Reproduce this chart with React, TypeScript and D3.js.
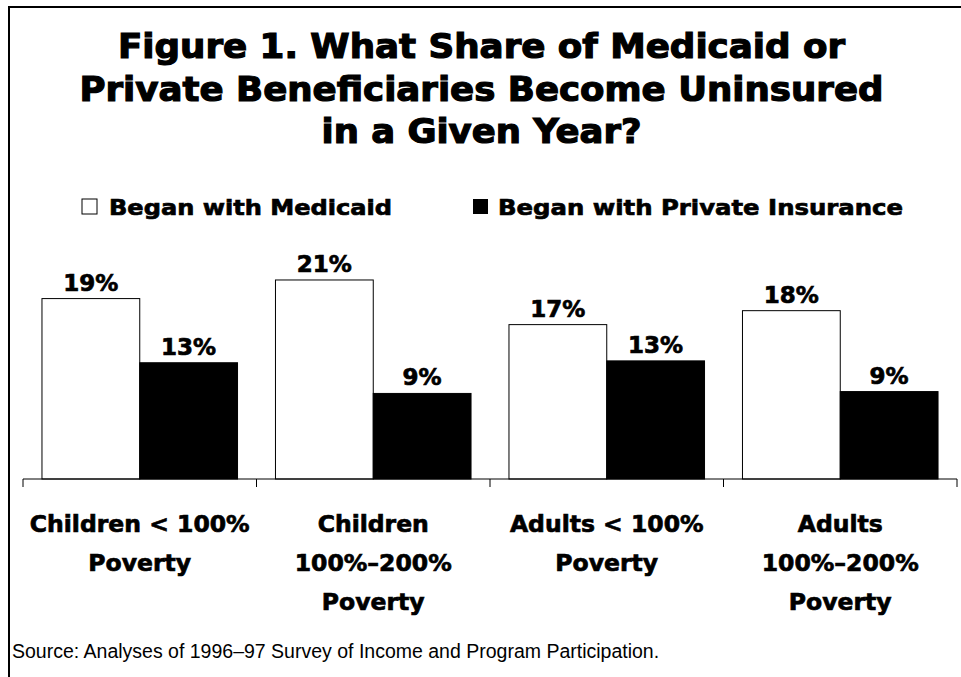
import React from "react";
import * as d3 from "d3";

const categories = ["Children < 100% Poverty", "Children 100%–200% Poverty", "Adults < 100% Poverty", "Adults 100%–200% Poverty"];
const categoryLines = [
  ["Children < 100%", "Poverty"],
  ["Children", "100%–200%", "Poverty"],
  ["Adults < 100%", "Poverty"],
  ["Adults", "100%–200%", "Poverty"],
];
const seriesNames = ["Began with Medicaid", "Began with Private Insurance"];
const medicaidValues = [19.4, 21.4, 16.6, 18.1];
const privateValues = [12.5, 9.2, 12.7, 9.4];
const medicaidLabels = ["19%", "21%", "17%", "18%"];
const privateLabels = ["13%", "9%", "13%", "9%"];
const titleLines = [
  "Figure 1. What Share of Medicaid or",
  "Private Beneficiaries Become Uninsured",
  "in a Given Year?",
];
const sourceText = "Source: Analyses of 1996–97 Survey of Income and Program Participation.";

const W = 961;
const H = 677;
const HEAVY = "'DejaVu Sans', 'Liberation Sans', Arial, sans-serif";

export default function App() {
  const baseY = 479;
  const x0 = d3.scaleBand<number>().domain(d3.range(categories.length)).range([23, 957]).padding(0);
  const x1 = d3.scaleBand<string>().domain(seriesNames).range([0, x0.bandwidth()]).paddingInner(0).paddingOuter(0.194);
  const y = d3.scaleLinear().domain([0, 25]).range([baseY, baseY - 25 * 9.3]);

  const series = [
    { name: seriesNames[0], values: medicaidValues, labels: medicaidLabels, fill: "#ffffff" },
    { name: seriesNames[1], values: privateValues, labels: privateLabels, fill: "#000000" },
  ];

  const titleWidths = [727, 804, 320];
  const titleBaselines = [58, 101, 143];
  const tickXs = d3.range(categories.length + 1).map((i) => (i < categories.length ? (x0(i) as number) : 957));

  return (
    <svg width={W} height={H} style={{ position: "absolute", left: 0, top: 0, background: "#fff" }}>
      <rect x={0} y={0} width={W} height={H} fill="#fff" />
      <rect x={9} y={7} width={W + 20} height={H + 20} fill="none" stroke="#000" strokeWidth={2} />
      {titleLines.map((t, i) => (
        <text
          key={i}
          x={W / 2 + 1}
          y={titleBaselines[i]}
          textAnchor="middle"
          fontFamily={HEAVY}
          fontWeight="bold"
          fontSize={34}
          stroke="#000"
          strokeWidth={1.2}
          textLength={titleWidths[i]}
          lengthAdjust="spacingAndGlyphs"
        >
          {t}
        </text>
      ))}
      {/* legend */}
      <rect x={82} y={199} width={15} height={15} fill="#fff" stroke="#000" strokeWidth={1} />
      <text x={109} y={215} fontFamily={HEAVY} fontWeight="bold" fontSize={22} stroke="#000" strokeWidth={0.7} textLength={283} lengthAdjust="spacingAndGlyphs">
        {seriesNames[0]}
      </text>
      <rect x={473} y={199} width={15} height={15} fill="#000" />
      <text x={498} y={215} fontFamily={HEAVY} fontWeight="bold" fontSize={22} stroke="#000" strokeWidth={0.7} textLength={405} lengthAdjust="spacingAndGlyphs">
        {seriesNames[1]}
      </text>
      {/* bars */}
      {categories.map((c, i) => (
        <g key={c} transform={`translate(${x0(i)},0)`}>
          {series.map((s) => {
            const bx = x1(s.name) as number;
            const bw = x1.bandwidth();
            const top = y(s.values[i]);
            return (
              <g key={s.name}>
                <rect x={bx} y={top} width={bw} height={baseY - top} fill={s.fill} stroke="#000" strokeWidth={1} />
                <text x={bx + bw / 2} y={top - 8} textAnchor="middle" fontFamily={HEAVY} fontWeight="bold" fontSize={23} stroke="#000" strokeWidth={0.7}>
                  {s.labels[i]}
                </text>
              </g>
            );
          })}
        </g>
      ))}
      {/* axis */}
      <line x1={23} x2={957} y1={baseY} y2={baseY} stroke="#000" strokeWidth={1} />
      {tickXs.map((tx, i) => (
        <line key={i} x1={tx} x2={tx} y1={baseY} y2={baseY + 8} stroke="#000" strokeWidth={1} />
      ))}
      {categoryLines.map((lines, i) => (
        <g key={i}>
          {lines.map((l, j) => (
            <text
              key={j}
              x={(x0(i) as number) + x0.bandwidth() / 2}
              y={532 + j * 39}
              textAnchor="middle"
              fontFamily={HEAVY}
              fontWeight="bold"
              fontSize={23.5}
              stroke="#000"
              strokeWidth={0.7}
            >
              {l}
            </text>
          ))}
        </g>
      ))}
      <text x={12} y={658} fontFamily="'Liberation Sans', Arial, sans-serif" fontSize={19.5} fill="#000">
        {sourceText}
      </text>
    </svg>
  );
}
